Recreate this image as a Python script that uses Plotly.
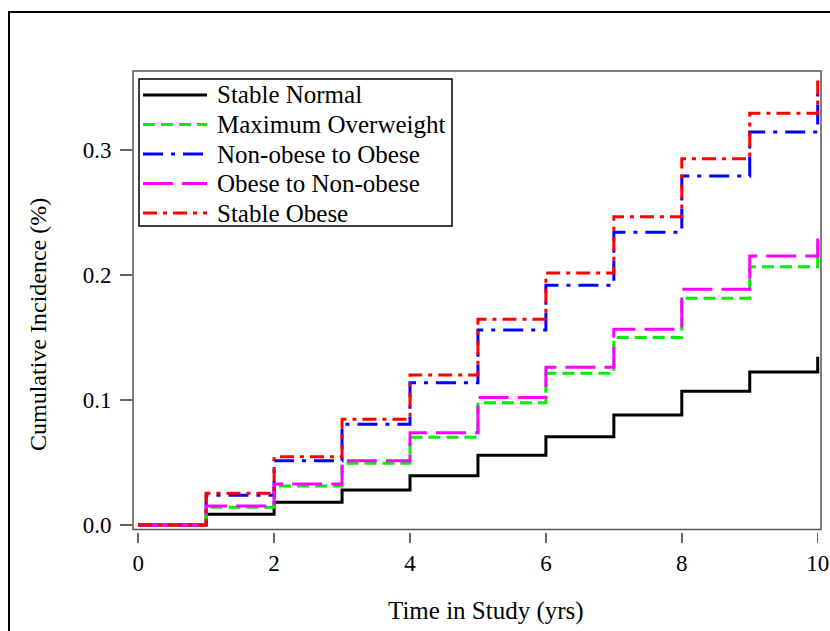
import plotly.graph_objects as go

# ---------------- data ----------------
years = [0, 1, 2, 3, 4, 5, 6, 7, 8, 9, 10]
series_names = ["Stable Normal", "Maximum Overweight", "Non-obese to Obese",
                "Obese to Non-obese", "Stable Obese"]
stable_normal = [0, 0.0086, 0.0182, 0.0280, 0.0394, 0.0558, 0.0706, 0.0880, 0.1070, 0.1224, 0.1346]
max_overweight = [0, 0.0142, 0.0312, 0.0494, 0.0702, 0.0978, 0.1214, 0.1500, 0.1814, 0.2066, 0.2240]
nonobese_to_obese = [0, 0.0238, 0.0514, 0.0806, 0.1138, 0.1560, 0.1918, 0.2342, 0.2792, 0.3144, 0.3450]
obese_to_nonobese = [0, 0.0152, 0.0328, 0.0514, 0.0738, 0.1020, 0.1262, 0.1566, 0.1886, 0.2152, 0.2346]
stable_obese = [0, 0.0254, 0.0546, 0.0846, 0.1200, 0.1646, 0.2016, 0.2466, 0.2930, 0.3294, 0.3566]
x_ticks = [0, 2, 4, 6, 8, 10]
y_ticks = [0.0, 0.1, 0.2, 0.3]
y_tick_labels = ["0.0", "0.1", "0.2", "0.3"]

series_values = [stable_normal, max_overweight, nonobese_to_obese, obese_to_nonobese, stable_obese]
colors = ["#000000", "#00ee00", "#0000ff", "#ff00ff", "#ff0000"]
dashes = ["solid", "12px,6px", "20px,8px,4px,8px", "30px,9px", "14px,6px,4px,6px"]

FONT = "Liberation Serif"
OFF = 0  # body margin removed below
W, H = 830, 631
# plot area in page pixels
PL, PR, PT, PB = 133, 821, 71, 532
L, R, T, B = PL - OFF, W - (PR - OFF), PT - OFF, H - (PB - OFF)
PW, PH = W - L - R, H - T - B


def px(xp):
    return (xp - OFF - L) / PW


def py(yp):
    return 1 - (yp - OFF - T) / PH


fig = go.Figure()
for name, vals, c, d in zip(series_names, series_values, colors, dashes):
    fig.add_trace(go.Scatter(x=years, y=vals, mode="lines", line_shape="hv",
                             name=name, showlegend=False, hoverinfo="skip",
                             line=dict(color=c, width=3, dash=d)))

shapes = []
annotations = []
# outer frame
shapes.append(dict(type="rect", xref="paper", yref="paper", x0=px(9), x1=px(880),
                   y0=py(700), y1=py(12), line=dict(color="black", width=2)))
# plot box
shapes.append(dict(type="rect", xref="paper", yref="paper", x0=0, x1=1,
                   y0=py(529.5), y1=1, line=dict(color="#555555", width=1.5), layer="above"))
# legend box
shapes.append(dict(type="rect", xref="paper", yref="paper", x0=px(139), x1=px(452),
                   y0=py(226), y1=py(79), line=dict(color="black", width=1.5),
                   fillcolor="white", layer="above"))
row_y = [95, 124.5, 154, 183.5, 213]
for name, c, d, ry in zip(series_names, colors, dashes, row_y):
    shapes.append(dict(type="line", xref="paper", yref="paper", x0=px(143), x1=px(207),
                       y0=py(ry), y1=py(ry), line=dict(color=c, width=3, dash=d), layer="above"))
    annotations.append(dict(text=name, xref="paper", yref="paper", x=px(215), y=py(ry),
                            xanchor="left", yanchor="middle", showarrow=False,
                            font=dict(family=FONT, size=25, color="black")))

annotations.append(dict(text="Time in Study (yrs)", xref="paper", yref="paper",
                        x=px(486), y=py(611), xanchor="center", yanchor="middle",
                        showarrow=False, font=dict(family=FONT, size=25, color="black")))
annotations.append(dict(text="Cumulative Incidence (%)", xref="paper", yref="paper",
                        x=px(38), y=py(325), xanchor="center", yanchor="middle",
                        textangle=-90, showarrow=False,
                        font=dict(family=FONT, size=24, color="black")))

x0v = 138.2
xs = 67.95
y0v = 525
ys = 1250
fig.update_layout(
    width=W, height=H,
    margin=dict(l=L, r=R, t=T, b=B, autoexpand=False),
    paper_bgcolor="white", plot_bgcolor="white",
    showlegend=False, hovermode=False,
    shapes=shapes, annotations=annotations,
    font=dict(family=FONT, size=23, color="black"),
    xaxis=dict(range=[(PL - x0v) / xs, (PR - x0v) / xs], tickvals=x_ticks,
               ticks="outside", ticklen=10, tickwidth=1.5, tickcolor="#666666",
               showgrid=False, zeroline=False, showline=False,
               ticklabeloverflow="allow",
               tickfont=dict(family=FONT, size=23, color="black")),
    yaxis=dict(range=[(y0v - PB) / ys, (y0v - PT) / ys], tickvals=y_ticks,
               ticktext=y_tick_labels,
               ticks="outside", ticklen=12, tickwidth=1.5, tickcolor="#666666",
               showgrid=False, zeroline=False, showline=False,
               ticklabelstandoff=4,
               tickfont=dict(family=FONT, size=23, color="black")),
)
fig.write_html("out.html", config={"displayModeBar": False, "staticPlot": True},
               post_script="document.body.style.margin='0px';document.body.style.overflow='hidden';")
